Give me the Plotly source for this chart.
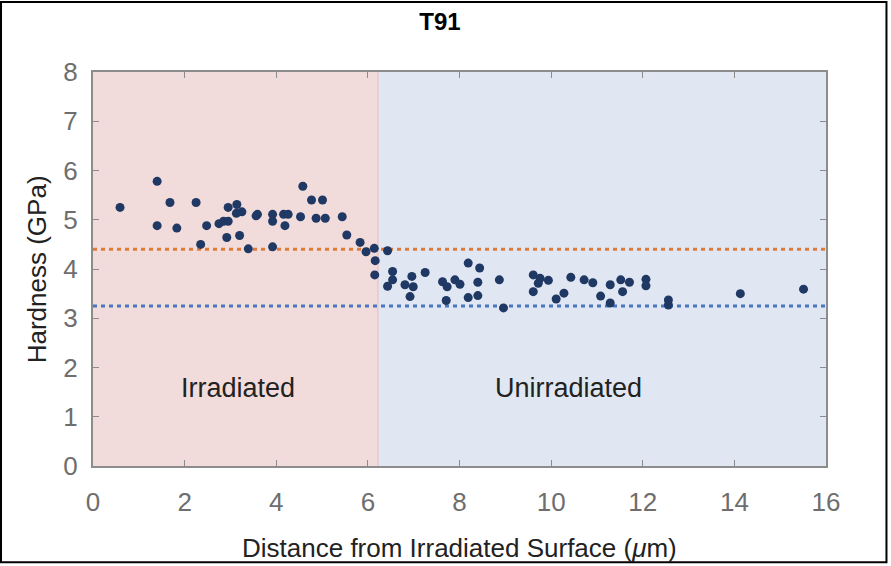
import plotly.graph_objects as go

# ---- data ----
distance_um = [0.59, 1.40, 1.40, 1.68, 1.83, 2.25, 2.35, 2.48, 2.75, 2.85, 2.95, 2.95, 2.92,
               3.14, 3.13, 3.25, 3.20, 3.39, 3.56, 3.59, 3.92, 3.92, 3.92, 4.16, 4.19, 4.26,
               4.53, 4.58, 4.77, 5.01, 4.87, 5.07, 5.44, 5.54, 5.83, 5.96, 6.14, 6.16, 6.15,
               6.43, 6.54, 6.54, 6.43, 6.81, 6.96, 6.99, 6.92, 7.25, 7.63, 7.73, 7.71, 7.90,
               8.01, 8.19, 8.44, 8.40, 8.19, 8.40, 8.87, 8.96, 9.61, 9.76, 9.72, 9.94, 9.61,
               10.11, 10.28, 10.43, 10.72, 10.91, 11.08, 11.29, 11.29, 11.52, 11.56, 11.71,
               12.07, 12.07, 12.56, 12.56, 14.13, 15.51]
hardness_gpa = [5.25, 5.78, 4.88, 5.35, 4.83, 5.35, 4.50, 4.88, 4.92, 4.97, 4.97, 5.25, 4.64,
                5.31, 5.13, 5.16, 4.68, 4.41, 5.08, 5.11, 5.11, 4.97, 4.45, 5.11, 4.88, 5.11,
                5.06, 5.68, 5.40, 5.40, 5.03, 5.03, 5.06, 4.69, 4.54, 4.35, 4.42, 4.17, 3.88,
                4.37, 3.95, 3.78, 3.65, 3.68, 3.85, 3.64, 3.44, 3.93, 3.74, 3.64, 3.36, 3.78,
                3.69, 4.12, 4.02, 3.73, 3.42, 3.46, 3.78, 3.21, 3.88, 3.81, 3.71, 3.77, 3.54,
                3.39, 3.51, 3.83, 3.78, 3.72, 3.45, 3.68, 3.31, 3.78, 3.54, 3.73,
                3.79, 3.66, 3.37, 3.27, 3.50, 3.59]

irradiated_avg = 4.40
unirradiated_avg = 3.25
boundary_um = 6.22
x_range = [0, 16]
y_range = [0, 8]
x_ticks = [0, 2, 4, 6, 8, 10, 12, 14, 16]
y_ticks = [0, 1, 2, 3, 4, 5, 6, 7, 8]
region_labels = ["Irradiated", "Unirradiated"]
region_label_pos = [(3.17, 1.58), (10.37, 1.58)]

FONT = "Liberation Sans, Arial, sans-serif"

fig = go.Figure()

# background regions
fig.add_shape(type="rect", xref="x", yref="y", x0=x_range[0], x1=boundary_um,
              y0=y_range[0], y1=y_range[1], fillcolor="#F2DCDB",
              line=dict(width=0), layer="below")
fig.add_shape(type="rect", xref="x", yref="y", x0=boundary_um, x1=x_range[1],
              y0=y_range[0], y1=y_range[1], fillcolor="#E1E7F2",
              line=dict(width=0), layer="below")
fig.add_shape(type="line", xref="x", yref="y", x0=boundary_um, x1=boundary_um,
              y0=y_range[0], y1=y_range[1], line=dict(color="#F2B8B5", width=1),
              layer="below")

# reference lines
fig.add_trace(go.Scatter(x=x_range, y=[irradiated_avg] * 2, mode="lines",
                         line=dict(color="#E07B39", width=3, dash="4px,4px"),
                         showlegend=False, hoverinfo="skip"))
fig.add_trace(go.Scatter(x=x_range, y=[unirradiated_avg] * 2, mode="lines",
                         line=dict(color="#4A76C0", width=3, dash="4px,4px"),
                         showlegend=False, hoverinfo="skip"))

# data points
fig.add_trace(go.Scatter(x=distance_um, y=hardness_gpa, mode="markers",
                         marker=dict(color="#1F3864", size=9, line=dict(width=0)),
                         showlegend=False))

for txt, (lx, ly) in zip(region_labels, region_label_pos):
    fig.add_annotation(x=lx, y=ly, xref="x", yref="y", text=txt, showarrow=False,
                       font=dict(family=FONT, size=27, color="#222222"))

# axis titles as annotations
fig.add_annotation(x=0.5, y=-0.207, xref="paper", yref="paper",
                   text="Distance from Irradiated Surface (<i>μ</i>m)", showarrow=False,
                   font=dict(family=FONT, size=26, color="#222222"), yanchor="middle")
fig.add_annotation(x=-0.076, y=0.5, xref="paper", yref="paper", text="Hardness (GPa)",
                   textangle=-90, showarrow=False,
                   font=dict(family=FONT, size=26, color="#222222"), xanchor="center")

# outer frame
fig.add_shape(type="rect", xref="paper", yref="paper", x0=-0.1255, x1=1.0825,
              y0=-0.2446, y1=1.1775, line=dict(color="black", width=2), layer="above")

axis_common = dict(showgrid=False, zeroline=False, showline=True, linecolor="#8C8C8C",
                   linewidth=2, mirror="ticks", ticks="inside", ticklen=6,
                   tickcolor="#8C8C8C", tickwidth=1,
                   tickfont=dict(family=FONT, size=26, color="#6E6E6E"))

fig.update_xaxes(range=x_range, tickvals=x_ticks, ticklabelstandoff=12, **axis_common)
fig.update_yaxes(range=y_range, tickvals=y_ticks, ticklabelstandoff=8, **axis_common)

fig.update_layout(
    width=891, height=566,
    margin=dict(l=93, r=65, t=72, b=99.5),
    paper_bgcolor="white", plot_bgcolor="white",
    title=dict(text="<b>T91</b>", x=440 / 891, xanchor="center", y=1 - 22 / 566,
               yanchor="middle", font=dict(family=FONT, size=24, color="black")),
)

fig.write_html("out.html")
